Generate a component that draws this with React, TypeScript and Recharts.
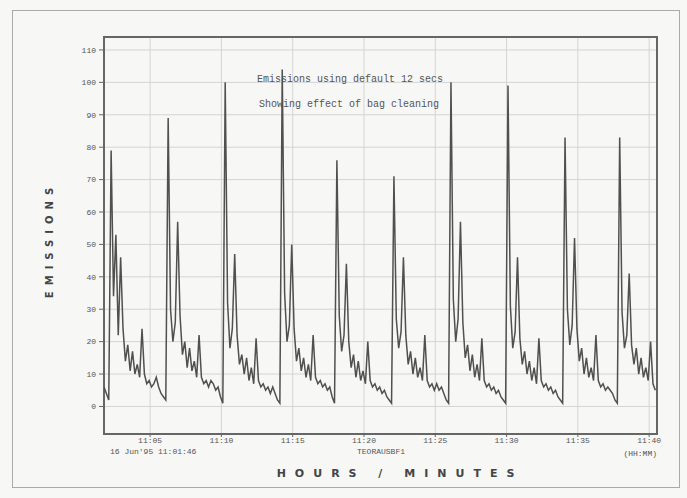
import { LineChart, Line, XAxis, YAxis, CartesianGrid, ReferenceArea } from "recharts";

// logger run started 11:01:46, one reading every 10 s
const START_MIN = 1 + 46 / 60;
const SAMPLE_SEC = 10;

// emission readings, one cleaning cycle per row
const EMISSIONS: number[] = [
  6, 4, 2,
  79, 34, 53, 22, 46, 24, 14, 19, 11, 17, 10, 13, 9, 24, 10, 7, 8, 6, 7, 9, 6, 4, 3, 2,
  89, 30, 20, 26, 57, 28, 16, 20, 12, 18, 11, 14, 9, 22, 9, 7, 8, 6, 8, 7, 5, 6, 3, 1,
  100, 32, 18, 24, 47, 22, 13, 16, 10, 15, 8, 12, 7, 21, 8, 6, 7, 5, 6, 4, 6, 4, 2, 1,
  104, 35, 20, 25, 50, 24, 14, 18, 11, 15, 9, 13, 8, 22, 9, 7, 8, 6, 7, 5, 6, 3, 1,
  76, 28, 17, 22, 44, 20, 12, 16, 9, 14, 8, 11, 7, 20, 8, 6, 7, 5, 6, 4, 5, 3, 2, 1,
  71, 27, 18, 23, 46, 22, 13, 17, 10, 15, 9, 12, 8, 22, 8, 6, 7, 5, 7, 5, 6, 4, 2, 1,
  100, 33, 20, 27, 57, 26, 15, 19, 11, 16, 9, 13, 8, 21, 8, 6, 7, 5, 6, 4, 5, 3, 2, 1,
  99, 31, 18, 23, 46, 21, 13, 17, 10, 14, 8, 12, 7, 21, 8, 6, 7, 5, 6, 4, 5, 3, 2, 1,
  83, 30, 19, 25, 52, 24, 14, 18, 10, 15, 9, 12, 8, 22, 8, 6, 7, 5, 6, 5, 4, 2, 1,
  83, 29, 18, 22, 41, 19, 13, 18, 10, 15, 9, 12, 8, 20, 7, 5,
];

const X_TICKS = [5, 10, 15, 20, 25, 30, 35, 40];
const X_TICK_LABELS = ["11:05", "11:10", "11:15", "11:20", "11:25", "11:30", "11:35", "11:40"];
const Y_TICKS = [0, 10, 20, 30, 40, 50, 60, 70, 80, 90, 100, 110];

const X_MIN = START_MIN;
const X_MAX = 40.55;
const Y_MIN = -8.5;
const Y_MAX = 114;

const MONO = "'Liberation Mono', 'DejaVu Sans Mono', monospace";
const INK = "#505050";

const data = EMISSIONS.map((v, i) => ({ t: START_MIN + (i * SAMPLE_SEC) / 60, v }));

const small = (extra: React.CSSProperties): React.CSSProperties => ({
  position: "absolute",
  fontFamily: MONO,
  color: "#555",
  whiteSpace: "nowrap",
  lineHeight: 1,
  ...extra,
});

export default function App() {
  return (
    <div style={{ position: "absolute", left: 0, top: 0, width: 687, height: 498, background: "#f7f7f5", overflow: "hidden" }}>
      <div style={{ position: "absolute", left: 12, top: 10, width: 666, height: 476, border: "1px solid #aaa" }} />
      <div style={{ position: "absolute", left: 0, top: 0 }}>
        <LineChart width={687} height={498} data={data} margin={{ top: 37, right: 30, left: 0, bottom: 34 }}>
          <CartesianGrid stroke="#d4d4d4" strokeWidth={1} />
          <XAxis
            dataKey="t"
            type="number"
            domain={[X_MIN, X_MAX]}
            ticks={X_TICKS}
            allowDataOverflow
            interval={0}
            height={30}
            tickFormatter={(_v: number, i: number) => X_TICK_LABELS[i]}
            tick={{ fontSize: 8, fill: "#555", fontFamily: MONO }}
            tickLine={{ stroke: "#666" }}
            tickSize={3}
            tickMargin={0}
            axisLine={false}
          />
          <YAxis
            type="number"
            width={104}
            domain={[Y_MIN, Y_MAX]}
            ticks={Y_TICKS}
            allowDataOverflow
            interval={0}
            tick={{ fontSize: 8, fill: "#555", fontFamily: MONO }}
            tickLine={{ stroke: "#666" }}
            tickSize={5}
            tickMargin={3}
            axisLine={false}
          />
          <ReferenceArea x1={X_MIN} x2={X_MAX} y1={Y_MIN} y2={Y_MAX} fill="none" stroke="#666" strokeWidth={2} />
          <Line type="linear" dataKey="v" stroke={INK} strokeWidth={1.5} dot={false} isAnimationActive={false} />
        </LineChart>
      </div>

      <div style={small({ left: 350, top: 75, fontSize: 10, transform: "translateX(-50%)" })}>
        Emissions using default 12 secs
      </div>
      <div style={small({ left: 349, top: 100, fontSize: 10, transform: "translateX(-50%)" })}>
        Showing effect of bag cleaning
      </div>

      <div
        style={small({
          left: 50,
          top: 240,
          fontSize: 10,
          fontWeight: "bold",
          letterSpacing: 6,
          color: "#444",
          fontFamily: "'DejaVu Sans', sans-serif",
          transform: "translate(-50%, -50%) rotate(-90deg)",
        })}
      >
        EMISSIONS
      </div>
      <div
        style={small({
          left: 400,
          top: 473,
          fontSize: 11,
          fontWeight: "bold",
          letterSpacing: 9,
          color: "#444",
          fontFamily: "'DejaVu Sans', sans-serif",
          transform: "translate(-50%, -50%)",
        })}
      >
        HOURS / MINUTES
      </div>

      <div style={small({ left: 110, top: 448, fontSize: 8 })}>16 Jun'95 11:01:46</div>
      <div style={small({ left: 381, top: 448, fontSize: 8, transform: "translateX(-50%)" })}>TEORAUSBF1</div>
      <div style={small({ left: 657, top: 450, fontSize: 8, transform: "translateX(-100%)" })}>(HH:MM)</div>
    </div>
  );
}
